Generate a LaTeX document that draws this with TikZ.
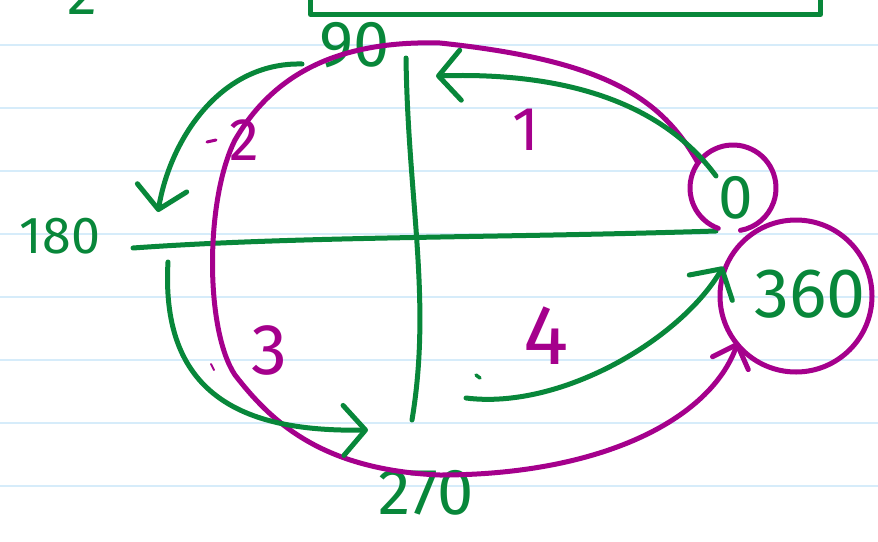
\documentclass[tikz,border=0pt]{standalone}
\usepackage{fontspec}
\setmainfont{Fira Sans}
\usetikzlibrary{arrows.meta}
\definecolor{penG}{RGB}{8,135,58}
\definecolor{penM}{RGB}{165,0,140}
\definecolor{paper}{RGB}{214,236,250}
\newcommand{\hwsize}[1]{\fontsize{#1}{#1}\selectfont}
\begin{document}
\begin{tikzpicture}[x=1pt,y=-1pt,
  gpen/.style={draw=penG,line width=5pt,line cap=round,line join=round},
  mpen/.style={draw=penM,line width=5pt,line cap=round,line join=round},
  gtip/.style={-{Straight Barb[length=22pt,width=50pt,round]}},
  mtip/.style={-{Straight Barb[length=20pt,width=38pt,round]}},
  glab/.style={text=penG,inner sep=0pt},
  mlab/.style={text=penM,inner sep=0pt},
  rule/.style={draw=paper,line width=2.5pt}]
\useasboundingbox (0,0) rectangle (878,541);
\fill[white] (0,0) rectangle (878,541);
\foreach \yy in {45,108,...,486} \draw[rule] (0,\yy) -- (878,\yy);

% top box and cut-off 2
\node[gpen, rectangle, minimum width=510pt, minimum height=60pt, anchor=south west] (topbox) at (308,17) {};
\node[glab, anchor=base] (cuttwo) at (82,14) {\hwsize{60pt}2};

% axes
\coordinate (hL) at (133,248);
\coordinate (hR) at (716,231);
\draw[gpen] (hL) .. controls (300,236) and (500,238) .. (hR);
\coordinate (vT) at (406,58);
\coordinate (vB) at (412,420);
\draw[gpen] (vT) .. controls (408,200) and (432,300) .. (vB);

% angle labels
\node[glab] (l90) at (355,45) {\hwsize{65pt}90};
\node[glab] (l180) at (60,236) {\hwsize{52pt}180};
\node[glab] (l270) at (426,493) {\hwsize{65pt}270};
\node[glab] (l0) at (736,198) {\hwsize{62pt}0};
\node[glab] (l360) at (810,294) {\hwsize{70pt}360};

% quadrant numbers
\node[mlab] (q1) at (526,130) {\hwsize{62pt}1};
\node[mlab] (q2) at (244,140) {\hwsize{60pt}2};
\node[mlab] (q3) at (269,350) {\hwsize{72pt}3};
\node[mlab] (q4) at (546,336) {\hwsize{85pt}4};

% stray marks
\draw[mpen,line width=3pt] (207,142) -- (216,140);
\draw[mpen,line width=2pt] (211,364) -- (214,370);
\draw[gpen,line width=3.5pt] (476,375) -- (480,378);

% rings
\coordinate (zc) at (733,188);
\draw[mpen] (zc) ++(110:43) arc[start angle=110,end angle=440,radius=43];
\node[mpen, circle, minimum size=152pt, inner sep=0pt] (ring360) at (796,296) {};

% magenta loop
\coordinate (m0) at (698,163);
\coordinate (m1) at (738,342);
\draw[mpen,mtip] (m0) .. controls (660,95) and (600,60) .. (440,43)
  .. controls (330,40) and (270,80) .. (235,140)
  .. controls (205,200) and (205,330) .. (235,375)
  .. controls (270,420) and (320,470) .. (440,475)
  .. controls (600,475) and (710,420) .. (m1);

% green quadrant arrows
\coordinate (a1s) at (716,176);
\coordinate (a1e) at (436,76);
\draw[gpen,gtip] (a1s) .. controls (660,100) and (560,72) .. (a1e);
\coordinate (a2s) at (302,64);
\coordinate (a2e) at (158,212);
\draw[gpen,gtip] (a2s) .. controls (220,62) and (170,140) .. (a2e);
\coordinate (a3s) at (168,262);
\coordinate (a3e) at (368,430);
\draw[gpen,gtip] (a3s) .. controls (160,400) and (250,432) .. (a3e);
\coordinate (a4s) at (466,398);
\draw[gpen,gtip] (a4s) .. controls (560,410) and (680,340) .. (ring360.158);
\end{tikzpicture}
\end{document}
